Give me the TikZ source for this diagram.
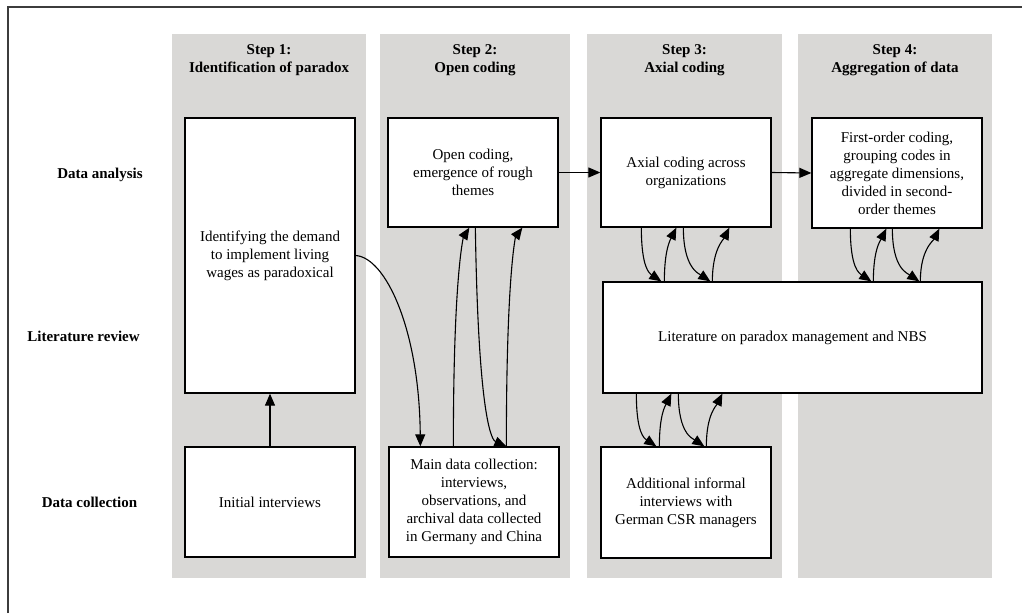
\documentclass[tikz,border=0pt]{standalone}
\usepackage{fontspec}
\setmainfont{Liberation Serif}
\usetikzlibrary{arrows.meta}
\definecolor{colgray}{RGB}{217,216,214}
\definecolor{framegray}{RGB}{60,60,60}
\begin{document}
\begin{tikzpicture}[x=1pt,y=-1pt,
  txt/.style={font=\fontsize{15}{18}\selectfont, align=center, inner sep=0pt},
  hdr/.style={font=\fontsize{15}{18}\selectfont\bfseries, align=center, inner sep=0pt},
  rowlbl/.style={font=\fontsize{15}{18}\selectfont\bfseries, inner sep=0pt},
  box/.style={draw=black, line width=1.3pt, fill=white, txt, minimum width=170pt, minimum height=110pt},
  arr/.style={line width=1.1pt, -{Triangle[length=12pt,width=10pt]}},
]
\useasboundingbox (0,0) rectangle (1022,613);
\fill[white] (0,0) rectangle (1022,613);
% frame
\draw[framegray, line width=1.3pt] (8,613) -- (8,7) -- (1022,7);
% columns
\fill[colgray] (172,34) rectangle (366,578);
\fill[colgray] (380,34) rectangle (570,578);
\fill[colgray] (587,34) rectangle (782,578);
\fill[colgray] (798,34) rectangle (992,578);
% headers
\node[hdr] (h1) at (269,60) {Step 1:\\Identification of paradox};
\node[hdr] (h2) at (475,60) {Step 2:\\Open coding};
\node[hdr] (h3) at (684.5,60) {Step 3:\\Axial coding};
\node[hdr] (h4) at (895,60) {Step 4:\\Aggregation of data};
% row labels
\node[rowlbl] (r1) at (100,175) {Data analysis};
\node[rowlbl] (r2) at (83.5,336) {Literature review};
\node[rowlbl] (r3) at (89.5,502) {Data collection};
% boxes
\node[box, minimum height=275pt] (b1) at (270,255.5) {Identifying the demand\\to implement living\\wages as paradoxical};
\node[box] (ii) at (270,502) {Initial interviews};
\node[box, minimum height=109pt] (oc) at (473,172.5) {Open coding,\\emergence of rough\\themes};
\node[box] (md) at (474,502) {Main data collection:\\interviews,\\observations, and\\archival data collected\\in Germany and China};
\node[box, minimum height=109pt] (ax) at (686,172.5) {Axial coding across\\organizations};
\node[box] (ag) at (897,173) {First-order coding,\\grouping codes in\\aggregate dimensions,\\divided in second-\\order themes};
\node[box, minimum width=379pt, minimum height=111pt] (lit) at (792.5,337.5) {Literature on paradox management and NBS};
\node[box, minimum height=111pt] (ad) at (686,502.5) {Additional informal\\interviews with\\German CSR managers};
% arrows
\draw[arr] (ii.north) -- (b1.south);
\draw[arr] (b1.east) .. controls +(30,2) and +(-1,-117) .. ([xshift=32pt]md.north west);
\draw[arr] (oc.east) -- (ax.west);
\draw[arr] (ax.east) -- (ag.west);
% open coding <-> main data
\draw[arr] ([xshift=65pt]md.north west) .. controls +(0,-180) and +(-5,8) .. ([xshift=82pt]oc.south west);
\draw[arr] ([xshift=88pt]oc.south west) .. controls +(3,195) and +(-14,-6) .. ([xshift=118pt]md.north west);
\draw[arr] ([xshift=118pt]md.north west) .. controls +(0,-180) and +(-6,8) .. ([xshift=135pt]oc.south west);
% axial <-> literature
\draw[arr] ([xshift=41pt]ax.south west) .. controls +(0,40) and +(-12,-8) .. ([xshift=59pt]lit.north west);
\draw[arr] ([xshift=62pt]lit.north west) .. controls +(0,-32) and +(-6,12) .. ([xshift=76pt]ax.south west);
\draw[arr] ([xshift=83pt]ax.south west) .. controls +(0,40) and +(-12,-8) .. ([xshift=108pt]lit.north west);
\draw[arr] ([xshift=110pt]lit.north west) .. controls +(0,-32) and +(-6,12) .. ([xshift=129pt]ax.south west);
% aggregation <-> literature
\draw[arr] ([xshift=39pt]ag.south west) .. controls +(0,40) and +(-12,-8) .. ([xshift=269pt]lit.north west);
\draw[arr] ([xshift=271pt]lit.north west) .. controls +(0,-32) and +(-6,12) .. ([xshift=75pt]ag.south west);
\draw[arr] ([xshift=81pt]ag.south west) .. controls +(0,40) and +(-12,-8) .. ([xshift=317pt]lit.north west);
\draw[arr] ([xshift=318pt]lit.north west) .. controls +(0,-32) and +(-6,12) .. ([xshift=128pt]ag.south west);
% literature <-> additional
\draw[arr] ([xshift=34pt]lit.south west) .. controls +(0,40) and +(-12,-8) .. ([xshift=56pt]ad.north west);
\draw[arr] ([xshift=59pt]ad.north west) .. controls +(0,-32) and +(-6,12) .. ([xshift=69pt]lit.south west);
\draw[arr] ([xshift=76pt]lit.south west) .. controls +(0,40) and +(-12,-8) .. ([xshift=104pt]ad.north west);
\draw[arr] ([xshift=106pt]ad.north west) .. controls +(0,-32) and +(-6,12) .. ([xshift=120pt]lit.south west);
\end{tikzpicture}
\end{document}
